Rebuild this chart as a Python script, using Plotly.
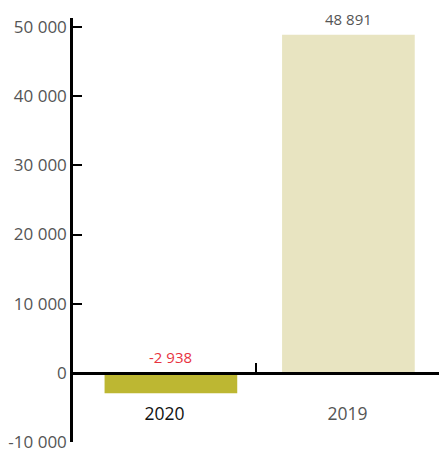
import plotly.graph_objects as go

categories = ["2020", "2019"]
values = [-2938, 48891]
bar_colors = ["#bdb732", "#e8e4c1"]
label_colors = ["#e8333f", "#555555"]
cat_label_colors = ["#111111", "#555555"]
ytick_vals = [-10000, 0, 10000, 20000, 30000, 40000, 50000]

FONT = "Open Sans"
BAR_W = 0.725
BAR_SHIFT = [0.035, 0.005]

def fmt(v):
    s = f"{abs(v):,}".replace(",", " ")
    return ("-" if v < 0 else "") + s

ymin, ymax = -10000, 51300

fig = go.Figure()
fig.add_trace(go.Bar(
    x=categories, y=values, marker=dict(color=bar_colors, line=dict(width=0)),
    width=[BAR_W] * len(values),
    offset=[-BAR_W / 2 + s for s in BAR_SHIFT],
    hoverinfo="skip", showlegend=False,
))

for i, (v, col) in enumerate(zip(values, label_colors)):
    fig.add_annotation(x=i + BAR_SHIFT[i], y=max(v, 0), xref="x", yref="y", text=fmt(v),
                       showarrow=False, yanchor="bottom", yshift=4,
                       font=dict(family=FONT, size=15, color=col))

fig.update_layout(
    width=441, height=455,
    margin=dict(l=73, r=2, t=18, b=10),
    plot_bgcolor="white", paper_bgcolor="white",
    font=dict(family=FONT, size=16, color="#555555"),
    xaxis=dict(
        type="category", range=[-0.5, 1.5],
        anchor="free", position=(0 - ymin) / (ymax - ymin),
        showline=True, linecolor="black", linewidth=2.5,
        ticks="inside", ticklen=9, tickwidth=2, tickcolor="black",
        tickson="boundaries",
        tickvals=categories,
        ticktext=[f'<span style="color:{c}">{t}</span>' for t, c in zip(categories, cat_label_colors)],
        ticklabelstandoff=24,
        showgrid=False, zeroline=False,
        tickfont=dict(family=FONT, size=17.5),
    ),
    yaxis=dict(
        range=[ymin, ymax],
        showline=True, linecolor="black", linewidth=2.5,
        ticks="inside", ticklen=9, tickwidth=2, tickcolor="black",
        tickvals=ytick_vals,
        ticktext=[fmt(v) for v in ytick_vals],
        ticklabeloverflow="allow",
        showgrid=False, zeroline=False,
        tickfont=dict(family=FONT, size=17, color="#555555"),
    ),
)

fig.write_html("out.html", config={"displayModeBar": False},
               post_script="document.body.style.margin='0px';")
